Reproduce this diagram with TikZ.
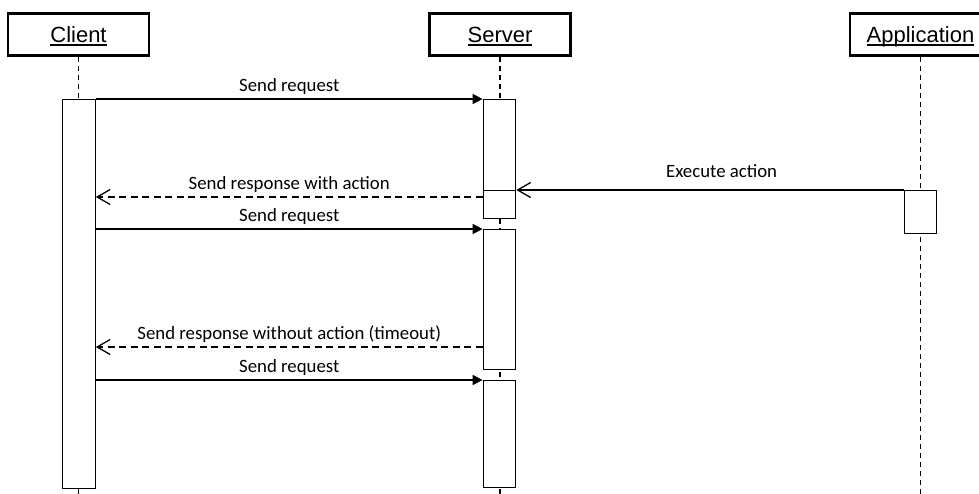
\documentclass[tikz,border=0pt]{standalone}
\usepackage{fontspec}
\setmainfont{Carlito}
\newfontfamily\headfont{Liberation Sans}
\usetikzlibrary{positioning,arrows.meta,calc}
\newcommand\ulname[1]{\leavevmode\setbox0\hbox{#1}\rlap{\copy0}\rule[-3.4pt]{\wd0}{1.6pt}}
\tikzset{
  obj/.style={draw,line width=2.6pt,minimum width=141pt,minimum height=42.5pt,inner sep=0pt,
    text height=15.5pt,text depth=0pt,font=\headfont\fontsize{22}{24}\selectfont},
  act/.style={draw,fill=white,line width=1.2pt,minimum width=32.5pt,inner sep=0pt,anchor=north},
  life/.style={line width=1.2pt,dash pattern=on 5pt off 4pt},
  req/.style={-{Triangle[length=10pt,width=10pt]},line width=1.5pt},
  resp/.style={-{Straight Barb[length=13pt,width=15pt]},line width=1.3pt},
  back/.style={resp,dash pattern=on 7pt off 4.5pt},
  msg/.style={font=\fontsize{18.8}{21}\selectfont,anchor=base,yshift=7.5pt},
}
\begin{document}
\begin{tikzpicture}[x=1pt,y=-1pt]
  \useasboundingbox (0,0) rectangle (979,494);
  \clip (0,0) rectangle (979,494);
  % participants
  \node[obj] (client) at (78.5,34.5) {\ulname{Client}};
  \node[obj] (server) at (500,34.5) {\ulname{Server}};
  \node[obj] (app) at (920.5,34.5) {\ulname{Application}};
  % lifelines
  \foreach \p in {client,server,app}
    \draw[life] (\p.south) -- (\p.south |- 0,494);
  % activations
  \node[act,minimum height=389pt] (cbar) at (79,99) {};
  \node[act,minimum height=119pt] (sbar1) at (499.5,99) {};
  \node[act,minimum height=28pt] (sbar1b) at (499.5,190) {};
  \node[act,minimum height=140pt] (sbar2) at (499.5,229) {};
  \node[act,minimum height=107pt] (sbar3) at (499.5,380) {};
  \node[act,minimum height=43pt] (abar) at (920.5,190) {};
  % messages
  \draw[req] (cbar.north east) -- (sbar1.north west) node[msg,midway] {Send request};
  \draw[resp] (abar.north west) -- (sbar1b.north east) node[msg,pos=.47,yshift=4.5pt] {Execute action};
  \draw[back] (sbar1.west |- 0,197) -- (cbar.east |- 0,197) node[msg,midway] {Send response with action};
  \draw[req] (cbar.east |- sbar2.north) -- (sbar2.north west) node[msg,midway] {Send request};
  \draw[back] (sbar2.west |- 0,347) -- (cbar.east |- 0,347) node[msg,midway] {Send response without action (timeout)};
  \draw[req] (cbar.east |- sbar3.north) -- (sbar3.north west) node[msg,midway] {Send request};
\end{tikzpicture}
\end{document}
